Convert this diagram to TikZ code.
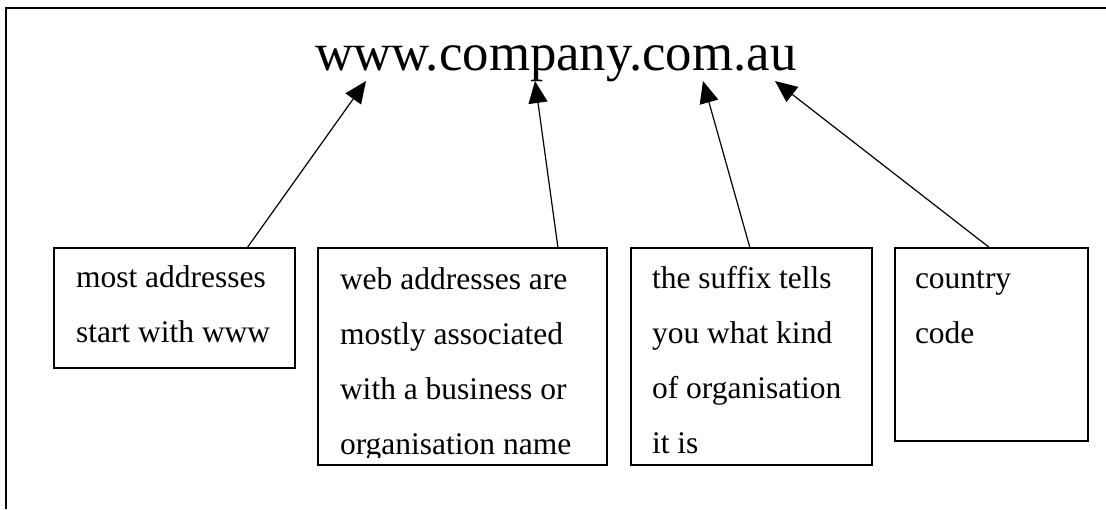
\documentclass[tikz,border=0pt]{standalone}
\usepackage{fontspec}
\setmainfont{Liberation Serif}
\usetikzlibrary{arrows.meta,calc}
\tikzset{
	% ---- default
	every node/.style={inner sep=0pt, outer sep=0pt},
	% ---- custom
	pageframe/.style={line width=2pt},
	notebox/.style={draw, line width=1.5pt, anchor=north west},
	notetext/.style={anchor=base west, font=\fontsize{31.5}{55}\selectfont},
	urltext/.style={anchor=base west, font=\fontsize{52.8}{60}\selectfont},
	pointer/.style={-{Triangle[length=22pt, width=19pt]}, line width=1.2pt},
}
\newcommand{\notelines}[1]{\parbox[t]{260pt}{#1}}

\begin{document}
\begin{tikzpicture}[x=1pt, y=-1pt]

% bounding box %{{{2

	\useasboundingbox (0,0) rectangle (1106,509);

% frame %{{{2

	\draw[pageframe] (1106,8) -- (6,8) -- (6,509);

% address %{{{2

	\node[urltext] (url) at (315,70) {www.company.com.au};

% boxes %{{{2

	\node[notebox, minimum width=241pt, minimum height=120pt] (box1) at (54,248) {};
	\node[notebox, minimum width=289pt, minimum height=217pt] (box2) at (318,248) {};
	\node[notebox, minimum width=241pt, minimum height=217pt] (box3) at (631,248) {};
	\node[notebox, minimum width=193pt, minimum height=193pt] (box4) at (895,248) {};

% box texts %{{{2

	\node[notetext] (text1) at ($(box1.north west)+(22,39)$)
		{\notelines{most addresses\\start with www}};

	\begin{scope}
		\clip (318,248) rectangle (607,457);
		\node[notetext] (text2) at ($(box2.north west)+(22,41)$)
			{\notelines{web addresses are\\mostly associated\\with a business or\\organisation name}};
	\end{scope}

	\node[notetext] (text3) at ($(box3.north west)+(21,40)$)
		{\notelines{the suffix tells\\you what kind\\of organisation\\it is}};

	\node[notetext] (text4) at ($(box4.north west)+(20,40)$)
		{\notelines{country\\code}};

% arrow tips %{{{2

	\coordinate (tipwww) at (366,81);
	\coordinate (tipname) at (535,81);
	\coordinate (tipsuffix) at (703,81);
	\coordinate (tipcountry) at (775,81);

% arrows %{{{2

	\draw[pointer] ($(box1.north west)+(193,0)$) -- (tipwww);
	\draw[pointer] ($(box2.north west)+(240,0)$) -- (tipname);
	\draw[pointer] ($(box3.north west)+(119,0)$) -- (tipsuffix);
	\draw[pointer] ($(box4.north west)+(95,0)$) -- (tipcountry);

% closing %{{{2

\end{tikzpicture}
\end{document}
